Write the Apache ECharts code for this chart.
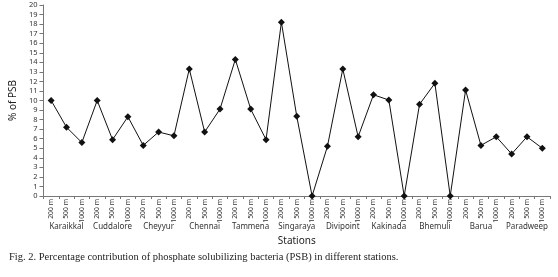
<!DOCTYPE html>
<html><head><meta charset="utf-8">
<script src="https://cdn.jsdelivr.net/npm/echarts@6/dist/echarts.min.js"></script>
<style>html,body{margin:0;padding:0;background:#fff}#c{width:558px;height:277px}</style>
</head><body><div id="c"></div>
<script>
const stations = ["Karaikkal","Cuddalore","Cheyyur","Chennai","Tammena","Singaraya","Divipoint","Kakinada","Bhemuli","Barua","Paradweep"];
const depths = ["200 m","500 m","1000 m"];
const psb = [10.0,7.2,5.6, 10.0,5.9,8.3, 5.3,6.7,6.3, 13.3,6.7,9.1, 14.3,9.1,5.9, 18.2,8.35,0, 5.2,13.3,6.2, 10.6,10.05,0, 9.6,11.8,0, 11.1,5.3,6.2, 4.4,6.2,5.0];
const yTicks = {min:0,max:20,interval:1};
const caption = "Fig. 2. Percentage contribution of phosphate solubilizing bacteria (PSB) in different stations.";

const cats = [];
stations.forEach(s => depths.forEach(d => cats.push(d)));

const chart = echarts.init(document.getElementById('c'));
const sans = "Noto Sans";
chart.setOption({
  animation:false,
  grid:{left:34,right:8,top:5,bottom:81},
  title:{text:caption,left:4,top:247,textStyle:{fontFamily:"Liberation Serif",fontSize:10.5,fontWeight:'normal',color:'#222'}},
  xAxis:[{
    type:'category',data:cats,boundaryGap:true,
    axisLine:{lineStyle:{color:'#777',width:1}},
    axisTick:{show:true,length:3,lineStyle:{color:'#777'}},
    axisLabel:{rotate:90,fontSize:6.8,fontFamily:sans,color:'#333',margin:3,interval:0}
  },{
    type:'category',data:stations,position:'bottom',offset:27,gridIndex:0,
    axisLine:{show:false},axisTick:{show:false},
    axisLabel:{fontSize:8,fontFamily:sans,color:'#333',margin:0,interval:0},
    name:'Stations',nameLocation:'middle',nameGap:13,
    nameTextStyle:{fontSize:10,fontFamily:sans,color:'#222'}
  }],
  yAxis:{
    type:'value',min:yTicks.min,max:yTicks.max,interval:yTicks.interval,
    name:'% of PSB',nameLocation:'middle',nameGap:22,nameRotate:90,
    nameTextStyle:{fontSize:10,fontFamily:sans,color:'#222'},
    axisLine:{show:true,lineStyle:{color:'#777'}},
    axisTick:{show:true,length:4,lineStyle:{color:'#777'}},
    axisLabel:{fontSize:7.5,fontFamily:sans,color:'#333',margin:6},
    splitLine:{show:false}
  },
  series:[{
    type:'line',xAxisIndex:0,data:psb,
    lineStyle:{color:'#111',width:1},
    itemStyle:{color:'#111'},
    symbol:'diamond',symbolSize:7,showSymbol:true
  }]
});
</script></body></html>
